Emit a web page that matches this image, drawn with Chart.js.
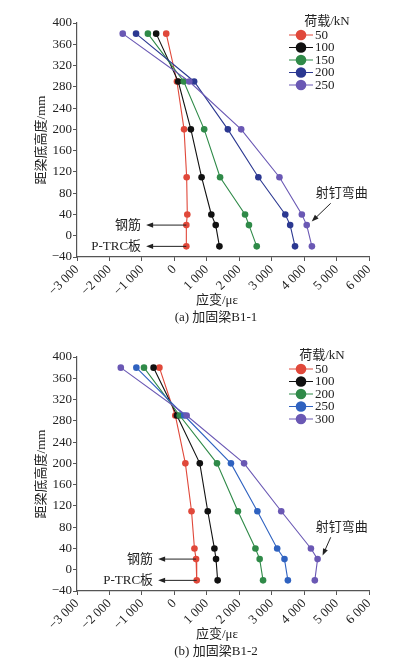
<!DOCTYPE html>
<html><head><meta charset="utf-8">
<script src="https://cdn.jsdelivr.net/npm/chart.js@4.4.1/dist/chart.umd.min.js"></script>
<style>html,body{margin:0;padding:0;background:#fff}canvas{display:block}</style>
</head><body>
<canvas id="c1" width="399" height="334"></canvas>
<canvas id="c2" width="399" height="334"></canvas>
<script>
// heights of gauges from beam bottom (mm)
const heights = [380, 290, 200, 110, 40, 20, -20];
const xTicks = [-3000, -2000, -1000, 0, 1000, 2000, 3000, 4000, 5000, 6000];
const yTicks = [-40, 0, 40, 80, 120, 160, 200, 240, 280, 320, 360, 400];

// (a) B1-1
const loadsA = ['50', '100', '150', '200', '250'];
const a50  = [-250, 80, 300, 380, 400, 370, 370];
const a100 = [-560, 120, 510, 840, 1140, 1275, 1390];
const a150 = [-815, 290, 920, 1410, 2180, 2300, 2540];
const a200 = [-1180, 610, 1650, 2590, 3420, 3570, 3720];
const a250 = [-1590, 460, 2060, 3240, 3930, 4080, 4240];

// (b) B1-2
const loadsB = ['50', '100', '200', '250', '300'];
const b50  = [-460, 30, 340, 530, 620, 670, 690];
const b100 = [-640, 80, 785, 1030, 1235, 1285, 1335];
const b200 = [-935, 165, 1315, 1960, 2500, 2630, 2735];
const b250 = [-1170, 305, 1745, 2560, 3170, 3395, 3500];
const b300 = [-1650, 380, 2150, 3295, 4210, 4415, 4330];

const colsA = ['#e0483a', '#111111', '#2f8a48', '#2b3891', '#6a58b4'];
const colsB = ['#e0483a', '#111111', '#2f8a48', '#2f62c0', '#6a58b4'];

const FONT = '"Liberation Serif", "Noto Sans CJK SC", serif';
const fmt = v => { const s = Math.abs(v) >= 1000 ? Math.floor(Math.abs(v)/1000) + ' ' + String(Math.abs(v)%1000).padStart(3,'0') : String(Math.abs(v)); return (v < 0 ? '\u2212' : '') + s; };

function arrow(ctx, x1, y1, x2, y2){
  const a = Math.atan2(y2-y1, x2-x1), L = 7, W = 2.6;
  ctx.beginPath(); ctx.moveTo(x1, y1); ctx.lineTo(x2 - Math.cos(a)*L*0.8, y2 - Math.sin(a)*L*0.8); ctx.stroke();
  ctx.beginPath(); ctx.moveTo(x2, y2);
  ctx.lineTo(x2 - Math.cos(a)*L + Math.sin(a)*W, y2 - Math.sin(a)*L - Math.cos(a)*W);
  ctx.lineTo(x2 - Math.cos(a)*L - Math.sin(a)*W, y2 - Math.sin(a)*L + Math.cos(a)*W);
  ctx.closePath(); ctx.fill();
}

const decor = {
  id: 'decor',
  afterDraw(chart, args, o){
    const ctx = chart.ctx, x = chart.scales.x, y = chart.scales.y;
    ctx.save();
    ctx.font = '13px ' + FONT; ctx.fillStyle = '#222'; ctx.textBaseline = 'middle';
    // legend
    ctx.textAlign = 'center'; ctx.fillText('荷载/kN', o.legX, 22);
    o.loads.forEach((l, i) => {
      const yy = 35 + i*12.5;
      ctx.strokeStyle = o.cols[i]; ctx.lineWidth = 1;
      ctx.beginPath(); ctx.moveTo(289, yy); ctx.lineTo(313, yy); ctx.stroke();
      ctx.fillStyle = o.cols[i]; ctx.beginPath(); ctx.arc(301, yy, 5.3, 0, Math.PI*2); ctx.fill();
      ctx.fillStyle = '#222'; ctx.textAlign = 'left'; ctx.fillText(l, 315, yy + 0.5);
    });
    // rebar / plate arrows
    ctx.strokeStyle = '#222'; ctx.fillStyle = '#222'; ctx.lineWidth = 1;
    const tip = x.getPixelForValue(o.tipX);
    [[20, '钢筋', 2], [-20, 'P-TRC板', 6]].forEach(([h, t, k]) => {
      const yy = y.getPixelForValue(h);
      arrow(ctx, x.getPixelForValue(o.first[heights.indexOf(h)]), yy, tip, yy);
      ctx.textAlign = 'right'; ctx.fillText(t, tip - 5, yy);
    });
    // nail bending
    const px = x.getPixelForValue(o.last[5]), py = y.getPixelForValue(20);
    ctx.textAlign = 'left';
    ctx.fillText('射钉弯曲', x.getPixelForValue(4360), y.getPixelForValue(80));
    arrow(ctx, x.getPixelForValue(4820), y.getPixelForValue(61), px + 5, py - 3.5);
    // axis title + caption
    ctx.textAlign = 'center';
    ctx.fillText('应变/με', 217, 301);
    ctx.fillText(o.caption, 216, 318);
    ctx.restore();
  }
};

function makeChart(id, loads, series, cols, caption, legX, tipX){
  return new Chart(document.getElementById(id), {
    type: 'scatter',
    data: {
      datasets: series.map((s, i) => ({
        label: loads[i],
        data: s.map((v, j) => ({x: v, y: heights[j]})),
        showLine: true, borderColor: cols[i], backgroundColor: cols[i],
        borderWidth: 1.1, pointRadius: 3.3, pointBorderWidth: 0,
        pointBackgroundColor: cols[i], order: -i
      }))
    },
    options: {
      responsive: false, animation: false, devicePixelRatio: 1,
      layout: {padding: {top: 23, right: 30, left: 0, bottom: 0}},
      plugins: {
        legend: {display: false}, tooltip: {enabled: false},
        decor: {loads, cols, caption, legX, tipX, first: series[0], last: series[4]}
      },
      scales: {
        x: {
          type: 'linear', min: -3000, max: 6000,
          afterBuildTicks: s => { s.ticks = xTicks.map(v => ({value: v})); },
          ticks: {minRotation: 45, maxRotation: 45, autoSkip: false, padding: 1, color: '#222',
            font: {family: FONT, size: 13}, callback: fmt},
          grid: {drawOnChartArea: false, tickLength: 4, color: '#555'},
          border: {color: '#555', width: 1.2},
          afterFit: s => { s.height = 77; }
        },
        y: {
          min: -40, max: 400,
          afterBuildTicks: s => { s.ticks = yTicks.map(v => ({value: v})); },
          ticks: {padding: 1, color: '#222', font: {family: FONT, size: 13},
            callback: v => (v < 0 ? '\u2212' : '') + Math.abs(v)},
          grid: {drawOnChartArea: false, tickLength: 4, color: '#555'},
          border: {color: '#555', width: 1.2},
          title: {display: true, text: '距梁底高度/mm', color: '#222',
            font: {family: FONT, size: 13}, padding: {top: 34, bottom: 0}},
          afterFit: s => { s.width = 77; }
        }
      }
    },
    plugins: [decor]
  });
}

makeChart('c1', loadsA, [a50, a100, a150, a200, a250], colsA, '(a) 加固梁B1-1', 327, -870);
makeChart('c2', loadsB, [b50, b100, b200, b250, b300], colsB, '(b) 加固梁B1-2', 322, -500);
</script>
</body></html>
